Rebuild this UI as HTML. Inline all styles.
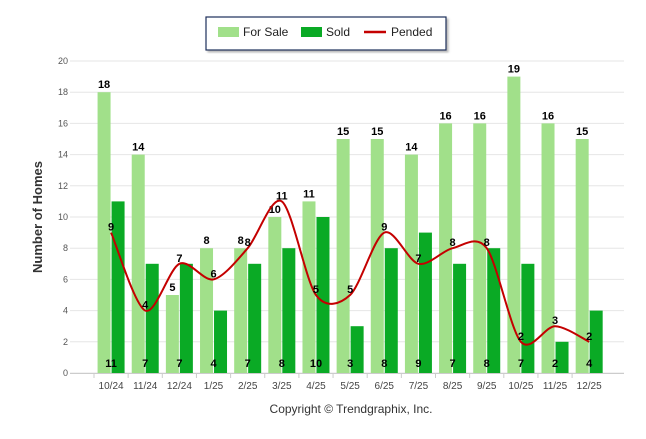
<!DOCTYPE html>
<html><head><meta charset="utf-8"><style>
body{margin:0;background:#fff;font-family:"Liberation Sans",sans-serif;}
svg text{font-family:"Liberation Sans",sans-serif;}
</style></head><body>
<svg id="chart" width="646" height="434">
<defs><filter id="sh"><feDropShadow dx="2" dy="2" stdDeviation="1" flood-color="#888" flood-opacity="0.6"/></filter></defs>
<g>
<rect x="206" y="17" width="240" height="33" fill="#fff" stroke="#1d2f5a" stroke-width="1.2" filter="url(#sh)"/>
<rect x="218" y="27" width="21" height="10" fill="#a1e08a"/>
<text x="243" y="36" font-size="12" fill="#222">For Sale</text>
<rect x="301" y="27" width="21" height="10" fill="#0aaa25"/>
<text x="326" y="36" font-size="12" fill="#222">Sold</text>
<line x1="364" y1="32" x2="386" y2="32" stroke="#c40000" stroke-width="2.5"/>
<text x="391" y="36" font-size="12" fill="#222">Pended</text>
</g>
<text transform="translate(42,217) rotate(-90)" text-anchor="middle" font-size="13" font-weight="bold" fill="#333">Number of Homes</text>
<text x="351" y="413" text-anchor="middle" font-size="12" fill="#333">Copyright © Trendgraphix, Inc.</text>
<g id="plot"></g>
</svg>
<script>
const categories=["10/24","11/24","12/24","1/25","2/25","3/25","4/25","5/25","6/25","7/25","8/25","9/25","10/25","11/25","12/25"];
const forSale=[18,14,5,8,8,10,11,15,15,14,16,16,19,16,15];
const sold=[11,7,7,4,7,8,10,3,8,9,7,8,7,2,4];
const pended=[9,4,7,6,8,11,5,5,9,7,8,8,2,3,2];
const yTicks=[0,2,4,6,8,10,12,14,16,18,20];
const NS="http://www.w3.org/2000/svg";
const g=document.getElementById('plot');
const y0=373,yTop=61,x0=94,slot=34.15;
const ys=v=>y0-(v/20)*(y0-yTop);
const xc=i=>x0+slot*(i+0.5);
function mk(t,a){const e=document.createElementNS(NS,t);for(const k in a)e.setAttribute(k,a[k]);g.appendChild(e);return e;}
yTicks.forEach(v=>{
 const l=mk('line',{x1:70,x2:624,y1:ys(v),y2:ys(v),stroke:'#e6e6e6'});
 
 
 const t=mk('text',{x:68,y:ys(v)+3,'text-anchor':'end','font-size':'9',fill:'#555'});t.textContent=v;
 
 
});
mk('line',{x1:70,x2:624,y1:y0+0.5,y2:y0+0.5,stroke:'#ccc'});
categories.forEach((c,i)=>{
 const cx=xc(i);
 mk('line',{x1:cx-slot/2,x2:cx-slot/2,y1:y0,y2:y0+5,stroke:'#ccc'});
 const a=mk('rect',{x:cx-13.5,y:ys(forSale[i]),width:13,height:y0-ys(forSale[i]),fill:'#a1e08a'});
 
 
 const b=mk('rect',{x:cx+0.5,y:ys(sold[i]),width:13,height:y0-ys(sold[i]),fill:'#0aaa25'});
 
 
 const la=mk('text',{x:cx-7,y:ys(forSale[i])-4,'text-anchor':'middle','font-size':'11','font-weight':'bold',fill:'#000'});la.textContent=forSale[i];
 
 
 const lb=mk('text',{x:cx,y:367,'text-anchor':'middle','font-size':'11','font-weight':'bold',fill:'#000'});lb.textContent=sold[i];
 
 
 const xl=mk('text',{x:cx,y:389,'text-anchor':'middle','font-size':'10',fill:'#444'});xl.textContent=c;
 
 
});
let pts=pended.map((v,i)=>[xc(i),ys(v)]);
let d='M'+pts[0][0]+','+pts[0][1];
for(let i=0;i<pts.length-1;i++){
 const p0=pts[Math.max(0,i-1)],p1=pts[i],p2=pts[i+1],p3=pts[Math.min(pts.length-1,i+2)];
 const t=0.3;
 d+=` C${p1[0]+(p2[0]-p0[0])*t/2},${p1[1]+(p2[1]-p0[1])*t/2} ${p2[0]-(p3[0]-p1[0])*t/2},${p2[1]-(p3[1]-p1[1])*t/2} ${p2[0]},${p2[1]}`;
}
const ln=mk('path',{d:d,fill:'none',stroke:'#c40000','stroke-width':2});


pended.forEach((v,i)=>{
 const t=mk('text',{x:xc(i),y:ys(v)-2,'text-anchor':'middle','font-size':'11','font-weight':'bold',fill:'#000'});t.textContent=v;
 
 
});
</script>
</body></html>
